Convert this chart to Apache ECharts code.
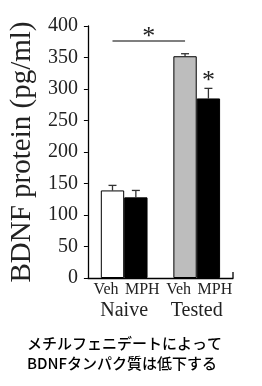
<!DOCTYPE html>
<html><head><meta charset="utf-8">
<script src="https://cdn.jsdelivr.net/npm/echarts@6/dist/echarts.min.js"></script>
<style>html,body{margin:0;padding:0;background:#fff}#c{width:262px;height:386px}</style>
</head><body><div id="c"></div>
<script>
const groups = ['Naive', 'Tested'];
const treatments = ['Veh', 'MPH'];
const subLabels = ['Veh', 'MPH', 'Veh', 'MPH'];
const vehMeans = [139, 352];
const mphMeans = [128, 285];
const vehErrTop = [147, 356];
const mphErrTop = [139, 301];
const yTicks = [0, 50, 100, 150, 200, 250, 300, 350, 400];
const sigLineValue = 376;
const caption = ['メチルフェニデートによって', 'BDNFタンパク質は低下する'];

const vehColors = ['#ffffff', '#bdbdbd'];
const mphColors = ['#000000', '#000000'];
const catGapRatio = 0.356;

const chart = echarts.init(document.getElementById('c'), null, {renderer: 'canvas'});

function errItem(seriesIdx, flags) {
  return function (params, api) {
    const ci = api.value(0);
    const top = api.value(1);
    const base = api.value(2);
    const p0 = api.coord([ci, base]);
    const p1 = api.coord([ci, top]);
    const band = api.size([1, 0])[0];
    const bw = band * (1 - catGapRatio) / 2;
    const x = p0[0] + (seriesIdx === 0 ? -bw / 2 : bw / 2);
    const cap = 4;
    const children = [
      {type: 'line', shape: {x1: x, y1: p0[1], x2: x, y2: p1[1]}, style: {stroke: '#333', lineWidth: 1.3}},
      {type: 'line', shape: {x1: x - cap, y1: p1[1], x2: x + cap, y2: p1[1]}, style: {stroke: '#333', lineWidth: 1.3}}
    ];
    if (flags[ci]) {
      children.push({type: 'text', style: {text: '*', x: x, y: p1[1] + 6, align: 'center', verticalAlign: 'bottom', font: '26px "Liberation Serif", serif', fill: '#222'}});
    }
    return {type: 'group', children: children};
  };
}

function endTick(params, api) {
  const p = api.coord([api.value(0), 0]);
  const band = api.size([1, 0])[0];
  const x = p[0] + band / 2;
  return {type: 'line', shape: {x1: x, y1: p[1], x2: x, y2: p[1] - 6}, style: {stroke: '#000', lineWidth: 1.3}};
}

chart.setOption({
  animation: false,
  grid: {left: 87, right: 29, top: 26, bottom: 108},
  xAxis: [
    {
      type: 'category', data: groups, position: 'bottom',
      axisLine: {lineStyle: {color: '#000', width: 1.3}},
      axisTick: {show: false},
      axisLabel: {interval: 0, margin: 23, color: '#222', fontFamily: 'Liberation Serif', fontSize: 20}
    },
    {
      type: 'category', data: subLabels, position: 'bottom',
      axisLine: {show: false}, axisTick: {show: false},
      axisLabel: {interval: 0, margin: 4, color: '#222', fontFamily: 'Liberation Serif', fontSize: 16}
    }
  ],
  yAxis: {
    type: 'value', min: 0, max: 400, interval: 50,
    name: 'BDNF protein (pg/ml)', nameLocation: 'middle', nameGap: 50,
    nameTextStyle: {fontFamily: 'Liberation Serif', fontSize: 29, color: '#222'},
    axisLine: {show: true, lineStyle: {color: '#000', width: 1.3}},
    axisTick: {show: true, inside: false, length: 4, lineStyle: {color: '#000'}},
    splitLine: {show: false},
    axisLabel: {margin: 10, color: '#222', fontFamily: 'Liberation Serif', fontSize: 20,
      formatter: v => yTicks.includes(v) ? String(v) : ''}
  },
  series: [
    {
      name: treatments[0], type: 'bar', xAxisIndex: 0, barGap: '0%', barCategoryGap: (catGapRatio * 100) + '%',
      data: vehMeans.map((v, i) => ({value: v, itemStyle: {color: vehColors[i], borderColor: '#000', borderWidth: 1}})),
      markLine: {
        symbol: 'none', silent: true,
        lineStyle: {color: '#555', width: 1.5, type: 'solid'},
        label: {show: true, position: 'middle', formatter: '*', fontFamily: 'Liberation Serif', fontSize: 26, color: '#222', distance: -9},
        data: [[{coord: [groups[0], sigLineValue]}, {coord: [groups[1], sigLineValue]}]]
      }
    },
    {
      name: treatments[1], type: 'bar', xAxisIndex: 0,
      data: mphMeans.map((v, i) => ({value: v, itemStyle: {color: mphColors[i], borderColor: '#000', borderWidth: 1}}))
    },
    {
      type: 'custom', xAxisIndex: 0, z: 1,
      renderItem: errItem(0, [false, false]),
      data: vehErrTop.map((t, i) => [i, t, vehMeans[i]])
    },
    {
      type: 'custom', xAxisIndex: 0, z: 1,
      renderItem: errItem(1, [false, true]),
      data: mphErrTop.map((t, i) => [i, t, mphMeans[i]])
    },
    {
      type: 'custom', xAxisIndex: 0, z: 3, silent: true,
      renderItem: endTick,
      data: [[groups.length - 1]]
    }
  ],
  graphic: [
    {type: 'text', left: 27, top: 336, style: {text: caption[0], font: '500 15px "Noto Sans CJK JP"', fill: '#000'}},
    {type: 'text', left: 27, top: 356, style: {text: caption[1], font: '500 15px "Noto Sans CJK JP"', fill: '#000'}}
  ]
});
</script>
</body></html>
